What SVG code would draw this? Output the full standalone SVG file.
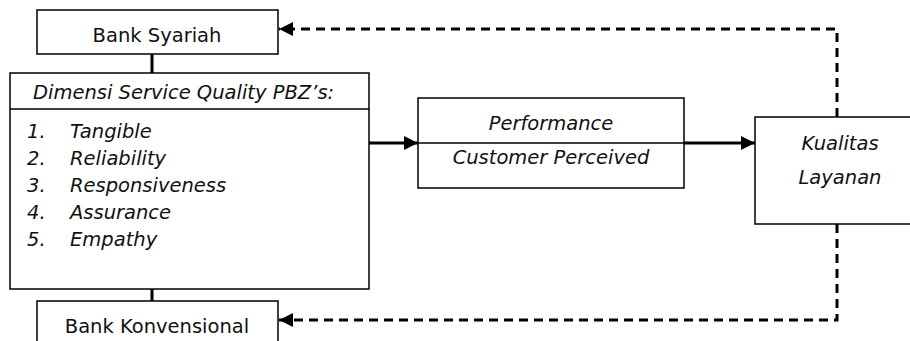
<svg xmlns="http://www.w3.org/2000/svg" width="910" height="341" viewBox="0 0 910 341">
<style>
.box{fill:#fff;stroke:#000;stroke-width:1.5}
.t{font-family:"DejaVu Sans","Noto Sans",sans-serif;font-size:19.5px;fill:#111}
.i{font-style:italic}
.m{text-anchor:middle}
.solid{fill:none;stroke:#000;stroke-width:3}
.thin{fill:none;stroke:#000;stroke-width:3}
.dash{fill:none;stroke:#000;stroke-width:3;stroke-dasharray:9,6}
</style>
<defs>
<marker id="ah" viewBox="0 0 14 14" refX="14" refY="7" markerWidth="14" markerHeight="14" markerUnits="userSpaceOnUse" orient="auto">
<path d="M0,0 L14,7 L0,14 Z" fill="#000"/>
</marker>
</defs>
<g id="connectors">
<line class="thin" x1="152" y1="54" x2="152" y2="73"/>
<line class="thin" x1="152" y1="289" x2="152" y2="301"/>
<line class="solid" x1="369" y1="143" x2="418" y2="143" marker-end="url(#ah)"/>
<line class="solid" x1="684" y1="143" x2="755" y2="143" marker-end="url(#ah)"/>
<polyline class="dash" points="837,117 837,29 279,29" marker-end="url(#ah)"/>
<polyline class="dash" points="837,224 837,320 279,320" marker-end="url(#ah)"/>
</g>
<g id="bank-syariah">
<rect class="box" x="37" y="10" width="241" height="44"/>
<text class="t m" x="157" y="42">Bank Syariah</text>
</g>
<g id="dimensi">
<rect class="box" x="10" y="73" width="359" height="216"/>
<line x1="10" y1="109" x2="369" y2="109" stroke="#000" stroke-width="1.5"/>
<text class="t i" x="33" y="99">Dimensi Service Quality PBZ’s:</text>
<text class="t i" x="27" y="138">1.</text><text class="t i" x="70" y="138">Tangible</text>
<text class="t i" x="27" y="165">2.</text><text class="t i" x="70" y="165">Reliability</text>
<text class="t i" x="27" y="192">3.</text><text class="t i" x="70" y="192">Responsiveness</text>
<text class="t i" x="27" y="219">4.</text><text class="t i" x="70" y="219">Assurance</text>
<text class="t i" x="27" y="246">5.</text><text class="t i" x="70" y="246">Empathy</text>
</g>
<g id="bank-konvensional">
<rect class="box" x="37" y="301" width="241" height="50"/>
<text class="t m" x="157" y="333">Bank Konvensional</text>
</g>
<g id="performance">
<rect class="box" x="418" y="98" width="266" height="90"/>
<line x1="418" y1="143" x2="684" y2="143" stroke="#000" stroke-width="1.5"/>
<text class="t i m" x="551" y="130">Performance</text>
<text class="t i m" x="551" y="164">Customer Perceived</text>
</g>
<g id="kualitas">
<rect class="box" x="755" y="117" width="175" height="107"/>
<text class="t i m" x="840" y="150">Kualitas</text>
<text class="t i m" x="840" y="184">Layanan</text>
</g>
</svg>
